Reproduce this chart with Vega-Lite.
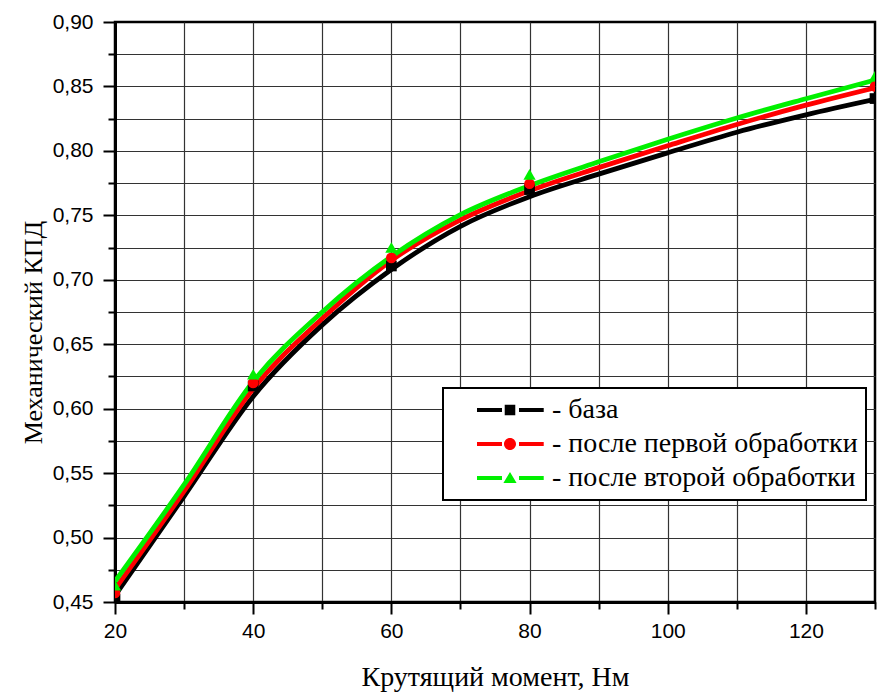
{
  "$schema": "https://vega.github.io/schema/vega-lite/v6.json",
  "width": 760,
  "height": 580,
  "autosize": "none",
  "padding": {"left": 115, "top": 22, "right": 4, "bottom": 90},
  "background": "white",
  "datasets": {
    "curves": [
      {"x": 20, "y": 0.455, "series": "база"},
      {"x": 30, "y": 0.532, "series": "база"},
      {"x": 40, "y": 0.6095, "series": "база"},
      {"x": 50, "y": 0.665, "series": "база"},
      {"x": 60, "y": 0.708, "series": "база"},
      {"x": 70, "y": 0.7415, "series": "база"},
      {"x": 80, "y": 0.7645, "series": "база"},
      {"x": 90, "y": 0.782, "series": "база"},
      {"x": 100, "y": 0.7985, "series": "база"},
      {"x": 110, "y": 0.8145, "series": "база"},
      {"x": 120, "y": 0.828, "series": "база"},
      {"x": 130, "y": 0.840, "series": "база"},
      {"x": 20, "y": 0.460, "series": "после первой обработки"},
      {"x": 30, "y": 0.536, "series": "после первой обработки"},
      {"x": 40, "y": 0.6155, "series": "после первой обработки"},
      {"x": 50, "y": 0.670, "series": "после первой обработки"},
      {"x": 60, "y": 0.715, "series": "после первой обработки"},
      {"x": 70, "y": 0.7465, "series": "после первой обработки"},
      {"x": 80, "y": 0.769, "series": "после первой обработки"},
      {"x": 90, "y": 0.787, "series": "после первой обработки"},
      {"x": 100, "y": 0.804, "series": "после первой обработки"},
      {"x": 110, "y": 0.8205, "series": "после первой обработки"},
      {"x": 120, "y": 0.8355, "series": "после первой обработки"},
      {"x": 130, "y": 0.849, "series": "после первой обработки"},
      {"x": 20, "y": 0.466, "series": "после второй обработки"},
      {"x": 30, "y": 0.541, "series": "после второй обработки"},
      {"x": 40, "y": 0.621, "series": "после второй обработки"},
      {"x": 50, "y": 0.675, "series": "после второй обработки"},
      {"x": 60, "y": 0.718, "series": "после второй обработки"},
      {"x": 70, "y": 0.7505, "series": "после второй обработки"},
      {"x": 80, "y": 0.773, "series": "после второй обработки"},
      {"x": 90, "y": 0.7915, "series": "после второй обработки"},
      {"x": 100, "y": 0.809, "series": "после второй обработки"},
      {"x": 110, "y": 0.8255, "series": "после второй обработки"},
      {"x": 120, "y": 0.8405, "series": "после второй обработки"},
      {"x": 130, "y": 0.855, "series": "после второй обработки"}
    ],
    "markers": [
      {"x": 20, "y": 0.452, "series": "база"},
      {"x": 40, "y": 0.6176, "series": "база"},
      {"x": 60, "y": 0.7107, "series": "база"},
      {"x": 80, "y": 0.770, "series": "база"},
      {"x": 130, "y": 0.8406, "series": "база"},
      {"x": 20, "y": 0.457, "series": "после первой обработки"},
      {"x": 40, "y": 0.620, "series": "после первой обработки"},
      {"x": 60, "y": 0.717, "series": "после первой обработки"},
      {"x": 80, "y": 0.7745, "series": "после первой обработки"},
      {"x": 130, "y": 0.850, "series": "после первой обработки"},
      {"x": 20, "y": 0.463, "series": "после второй обработки"},
      {"x": 40, "y": 0.6267, "series": "после второй обработки"},
      {"x": 60, "y": 0.725, "series": "после второй обработки"},
      {"x": 80, "y": 0.7818, "series": "после второй обработки"},
      {"x": 130, "y": 0.858, "series": "после второй обработки"}
    ]
  },
  "layer": [
    {
      "data": {"name": "curves"},
      "transform": [{"filter": {"field": "series", "equal": "база"}}],
      "mark": {"type": "line", "strokeWidth": 4.8, "interpolate": "monotone", "clip": true, "color": "#000000"},
      "encoding": {
        "x": {"field": "x", "type": "quantitative", "scale": {"domain": [20, 130], "nice": false, "zero": false},
          "axis": {"orient": "bottom", "values": [30, 40, 50, 60, 70, 80, 90, 100, 110, 120], "grid": true, "gridColor": "#333333", "gridWidth": 1.2, "ticks": false, "labels": false, "domain": false, "title": null}},
        "y": {"field": "y", "type": "quantitative", "scale": {"domain": [0.45, 0.9], "nice": false, "zero": false},
          "axis": {"orient": "left", "values": [0.475, 0.5, 0.525, 0.55, 0.575, 0.6, 0.625, 0.65, 0.675, 0.7, 0.725, 0.75, 0.775, 0.8, 0.825, 0.85, 0.875], "grid": true, "gridColor": "#333333", "gridWidth": 1.2, "ticks": false, "labels": false, "domain": false, "title": null}}
      }
    },
    {
      "data": {"name": "curves"},
      "transform": [{"filter": {"field": "series", "equal": "после первой обработки"}}],
      "mark": {"type": "line", "strokeWidth": 4.8, "interpolate": "monotone", "clip": true, "color": "#ff0000"},
      "encoding": {
        "x": {"field": "x", "type": "quantitative", "axis": null},
        "y": {"field": "y", "type": "quantitative", "axis": null}
      }
    },
    {
      "data": {"name": "curves"},
      "transform": [{"filter": {"field": "series", "equal": "после второй обработки"}}],
      "mark": {"type": "line", "strokeWidth": 4.8, "interpolate": "monotone", "clip": true, "color": "#00f000"},
      "encoding": {
        "x": {"field": "x", "type": "quantitative", "axis": null},
        "y": {"field": "y", "type": "quantitative", "axis": null}
      }
    },
    {
      "data": {"name": "markers"},
      "transform": [{"filter": {"field": "series", "equal": "база"}}],
      "mark": {"type": "point", "shape": "square", "filled": true, "opacity": 1, "color": "#000000", "size": 115, "clip": true},
      "encoding": {
        "x": {"field": "x", "type": "quantitative",
          "axis": {"orient": "bottom", "values": [20, 40, 60, 80, 100, 120], "grid": false, "tickSize": 12, "tickWidth": 2, "tickColor": "#000000", "domain": true, "domainColor": "#000000", "domainWidth": 3, "labelPadding": 6, "labelFlush": false, "labelOverlap": false, "title": "Крутящий момент, Нм", "titlePadding": 22, "titleFontSize": 28}},
        "y": {"field": "y", "type": "quantitative",
          "axis": {"orient": "left", "values": [0.45, 0.5, 0.55, 0.6, 0.65, 0.7, 0.75, 0.8, 0.85, 0.9], "grid": false, "tickSize": 12, "tickWidth": 2, "tickColor": "#000000", "domain": true, "domainColor": "#000000", "domainWidth": 3, "labelPadding": 10, "labelFlush": false, "labelOverlap": false,
            "labelExpr": "replace(format(datum.value, '.2f'), '.', ',')", "title": "Механический КПД", "titlePadding": 6, "titleY": 310, "titleFontSize": 26}}
      }
    },
    {
      "data": {"name": "markers"},
      "transform": [{"filter": {"field": "series", "equal": "после первой обработки"}}],
      "mark": {"type": "point", "shape": "circle", "filled": true, "opacity": 1, "color": "#ff0000", "size": 115, "clip": true},
      "encoding": {
        "x": {"field": "x", "type": "quantitative",
          "axis": {"orient": "bottom", "values": [30, 50, 70, 90, 110, 130], "grid": false, "tickSize": 7, "tickWidth": 2, "tickColor": "#000000", "labels": false, "domain": false, "title": null}},
        "y": {"field": "y", "type": "quantitative",
          "axis": {"orient": "left", "values": [0.475, 0.525, 0.575, 0.625, 0.675, 0.725, 0.775, 0.825, 0.875], "grid": false, "tickSize": 7, "tickWidth": 2, "tickColor": "#000000", "labels": false, "domain": false, "title": null}}
      }
    },
    {
      "data": {"name": "markers"},
      "transform": [{"filter": {"field": "series", "equal": "после второй обработки"}}],
      "mark": {"type": "point", "shape": "triangle-up", "filled": true, "opacity": 1, "color": "#00f000", "size": 150, "clip": true},
      "encoding": {
        "x": {"field": "x", "type": "quantitative", "axis": null},
        "y": {"field": "y", "type": "quantitative", "axis": null}
      }
    },
    {
      "data": {"name": "markers"},
      "mark": {"type": "point", "filled": true, "opacity": 0, "size": 576, "clip": true},
      "encoding": {
        "x": {"field": "x", "type": "quantitative", "axis": null},
        "y": {"field": "y", "type": "quantitative", "axis": null},
        "color": {"field": "series", "type": "nominal",
          "scale": {"domain": ["база", "после первой обработки", "после второй обработки"], "range": ["#000000", "#ff0000", "#00f000"]},
          "legend": {"title": null, "orient": "none", "legendX": 328, "legendY": 366, "fillColor": "white", "strokeColor": "black", "padding": 8, "rowPadding": 6, "symbolSize": 576, "symbolOpacity": 1, "symbolStrokeWidth": 0, "labelOffset": 73, "labelFont": "Liberation Serif", "labelFontSize": 28, "labelColor": "#000000", "labelLimit": 700, "labelExpr": "'- ' + datum.label"}},
        "shape": {"field": "series", "type": "nominal",
          "scale": {"domain": ["база", "после первой обработки", "после второй обработки"],
            "range": [
              "M1,-0.167H3.083V0.167H1Z M3.31,-0.44H4.19V0.44H3.31Z M4.5,-0.167H6.56V0.167H4.5Z",
              "M1,-0.167H3.083V0.167H1Z M4.25,0A0.5,0.5 0 1,1 3.25,0A0.5,0.5 0 1,1 4.25,0Z M4.5,-0.167H6.56V0.167H4.5Z",
              "M1,-0.167H3.083V0.167H1Z M3.75,-0.5L4.3,0.42H3.2Z M4.5,-0.167H6.56V0.167H4.5Z"
            ]},
          "legend": {"title": null, "orient": "none", "legendX": 328, "legendY": 366, "fillColor": "white", "strokeColor": "black", "padding": 8, "rowPadding": 6, "symbolSize": 576, "symbolOpacity": 1, "symbolStrokeWidth": 0, "labelOffset": 73, "labelFont": "Liberation Serif", "labelFontSize": 28, "labelColor": "#000000", "labelLimit": 700, "labelExpr": "'- ' + datum.label"}}
      }
    }
  ],
  "resolve": {"axis": {"x": "independent", "y": "independent"}},
  "config": {
    "view": {"stroke": "#000000", "strokeWidth": 2.5},
    "legend": {"strokeWidth": 2},
    "axis": {"labelFont": "Liberation Sans", "labelFontSize": 21, "labelColor": "#000000", "titleFont": "Liberation Serif", "titleFontSize": 27, "titleFontWeight": "normal", "titleColor": "#000000"}
  }
}
